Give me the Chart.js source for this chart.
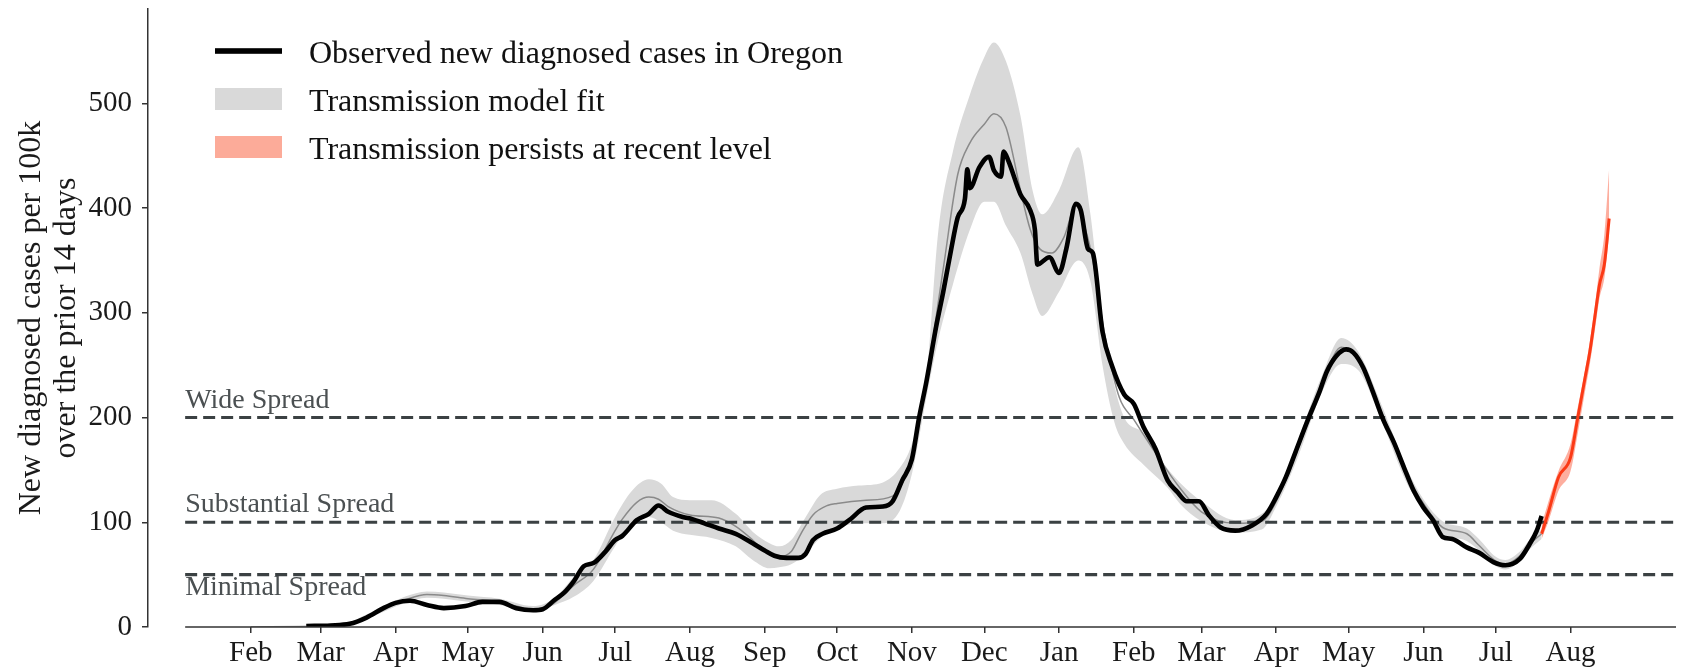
<!DOCTYPE html>
<html>
<head>
<meta charset="utf-8">
<script src="https://cdn.jsdelivr.net/npm/chart.js@4/dist/chart.umd.min.js"></script>
<style>
  body { margin: 0; background: #fff; }
  #wrap { width: 1687px; height: 671px; }
</style>
</head>
<body>
<div id="wrap"><canvas id="myChart" width="1687" height="671"></canvas></div>
<script>
// observed 14-day case rate per 100k
var obsDates = ['2020-02-24', '2020-03-05', '2020-03-13', '2020-03-20', '2020-03-27', '2020-04-01', '2020-04-07', '2020-04-14',
  '2020-04-21', '2020-04-30', '2020-05-07', '2020-05-14', '2020-05-21', '2020-05-28', '2020-06-01', '2020-06-06',
  '2020-06-10', '2020-06-14', '2020-06-18', '2020-06-22', '2020-06-27', '2020-07-01', '2020-07-04', '2020-07-10',
  '2020-07-15', '2020-07-19', '2020-07-23', '2020-07-29', '2020-08-02', '2020-08-07', '2020-08-13', '2020-08-20',
  '2020-08-27', '2020-09-01', '2020-09-05', '2020-09-10', '2020-09-15', '2020-09-18', '2020-09-21', '2020-09-25',
  '2020-10-01', '2020-10-06', '2020-10-13', '2020-10-20', '2020-10-24', '2020-10-28', '2020-11-01', '2020-11-04',
  '2020-11-07', '2020-11-11', '2020-11-14', '2020-11-17', '2020-11-20', '2020-11-23', '2020-11-24', '2020-11-25',
  '2020-11-29', '2020-12-03', '2020-12-05', '2020-12-08', '2020-12-09', '2020-12-11', '2020-12-16', '2020-12-20',
  '2020-12-22', '2020-12-23', '2020-12-28', '2021-01-01', '2021-01-04', '2021-01-08', '2021-01-10', '2021-01-13',
  '2021-01-15', '2021-01-19', '2021-01-23', '2021-01-28', '2021-02-01', '2021-02-05', '2021-02-10', '2021-02-15',
  '2021-02-19', '2021-02-23', '2021-02-28', '2021-03-04', '2021-03-09', '2021-03-15', '2021-03-22', '2021-03-28',
  '2021-04-01', '2021-04-05', '2021-04-09', '2021-04-14', '2021-04-19', '2021-04-22', '2021-04-26', '2021-04-30',
  '2021-05-03', '2021-05-07', '2021-05-11', '2021-05-15', '2021-05-20', '2021-05-24', '2021-05-28', '2021-06-01',
  '2021-06-05', '2021-06-09', '2021-06-13', '2021-06-19', '2021-06-24', '2021-06-30', '2021-07-05', '2021-07-11',
  '2021-07-15', '2021-07-18', '2021-07-20'];
var obsValues = [1, 1.5, 3, 9, 18, 23, 25, 21,
  18, 20, 24, 24, 18, 16, 17, 26,
  33, 44, 58, 61, 72, 83, 87, 102,
  108, 116, 110, 105, 103, 99, 94, 89,
  80, 73, 68, 66, 66, 70, 83, 89,
  94, 102, 114, 115, 120, 140, 160, 200,
  234, 286, 320, 357, 391, 409, 437, 419,
  439, 449, 436, 430, 454, 445, 413, 398,
  379, 346, 353, 338, 361, 404, 398, 361,
  357, 282, 249, 222, 213, 191, 170, 140,
  129, 120, 120, 107, 95, 92, 97, 108,
  124, 143, 167, 197, 225, 244, 259, 265,
  262, 248, 225, 200, 175, 152, 130, 114,
  102, 86, 84, 76, 71, 62, 59, 65,
  79, 92, 106];

// transmission model fit (central line)
var fitDates = ['2020-02-01', '2020-02-24', '2020-03-10', '2020-03-20', '2020-03-27', '2020-04-05', '2020-04-14', '2020-04-21',
  '2020-05-01', '2020-05-14', '2020-05-21', '2020-05-28', '2020-06-03', '2020-06-14', '2020-06-22', '2020-07-01',
  '2020-07-04', '2020-07-10', '2020-07-15', '2020-07-19', '2020-07-23', '2020-08-01', '2020-08-13', '2020-08-20',
  '2020-08-27', '2020-09-01', '2020-09-07', '2020-09-12', '2020-09-16', '2020-09-21', '2020-09-27', '2020-10-01',
  '2020-10-13', '2020-10-24', '2020-11-01', '2020-11-07', '2020-11-14', '2020-11-20', '2020-11-25', '2020-12-01',
  '2020-12-05', '2020-12-10', '2020-12-16', '2020-12-20', '2020-12-24', '2020-12-29', '2021-01-03', '2021-01-08',
  '2021-01-12', '2021-01-15', '2021-01-20', '2021-01-26', '2021-02-01', '2021-02-10', '2021-02-20', '2021-03-01',
  '2021-03-15', '2021-03-26', '2021-04-01', '2021-04-10', '2021-04-20', '2021-04-28', '2021-05-05', '2021-05-15',
  '2021-05-25', '2021-06-01', '2021-06-09', '2021-06-19', '2021-06-24', '2021-07-01', '2021-07-05', '2021-07-11',
  '2021-07-15', '2021-07-20'];
var fitValues = [0, 0.5, 2, 10, 18, 26, 31, 30,
  27, 24, 20, 17, 19, 40, 55, 92,
  103, 119, 124, 122, 115, 107, 104, 96,
  83, 72, 67, 72, 89, 107, 116, 118,
  121, 125, 164, 235, 342, 432, 462, 480,
  490, 477, 417, 380, 361, 357, 372, 402,
  379, 350, 278, 219, 198, 166, 133, 110,
  99, 101, 120, 170, 232, 267, 255, 203,
  145, 118, 95, 89, 78, 63, 60, 68,
  79, 89];

// model uncertainty band
var bandDates = ['2020-02-01', '2020-03-10', '2020-03-20', '2020-04-05', '2020-04-14', '2020-04-21', '2020-05-01', '2020-05-14',
  '2020-05-28', '2020-06-06', '2020-06-14', '2020-06-22', '2020-07-01', '2020-07-08', '2020-07-15', '2020-07-20',
  '2020-07-25', '2020-08-01', '2020-08-10', '2020-08-20', '2020-08-27', '2020-09-03', '2020-09-07', '2020-09-12',
  '2020-09-18', '2020-09-24', '2020-10-01', '2020-10-10', '2020-10-20', '2020-10-27', '2020-11-01', '2020-11-07',
  '2020-11-12', '2020-11-18', '2020-11-25', '2020-12-01', '2020-12-05', '2020-12-10', '2020-12-16', '2020-12-21',
  '2020-12-25', '2021-01-01', '2021-01-09', '2021-01-14', '2021-01-19', '2021-01-24', '2021-01-28', '2021-02-05',
  '2021-02-15', '2021-02-20', '2021-03-01', '2021-03-15', '2021-03-26', '2021-04-01', '2021-04-10', '2021-04-20',
  '2021-04-28', '2021-05-05', '2021-05-15', '2021-05-25', '2021-06-01', '2021-06-09', '2021-06-19', '2021-06-24',
  '2021-07-01', '2021-07-05', '2021-07-11', '2021-07-15', '2021-07-20'];
var bandUpper = [0.5, 3, 12, 29, 34, 33, 30, 27,
  20, 28, 48, 64, 105, 130, 141, 137,
  124, 121, 121, 108, 91, 80, 77, 83,
  105, 126, 132, 135, 138, 152, 175, 237,
  379, 454, 508, 544, 558, 540, 488, 417,
  394, 417, 458, 394, 293, 230, 200, 185,
  151, 138, 120, 102, 108, 125, 178, 240,
  276, 263, 210, 152, 122, 101, 94, 84,
  67, 64, 72, 83, 93];
var bandLower = [0, 1, 8, 23, 28, 27, 24, 21,
  14, 21, 29, 44, 77, 100, 105, 100,
  92, 88, 85, 77, 64, 56, 57, 60,
  70, 85, 94, 99, 99, 111, 146, 219,
  275, 327, 379, 406, 406, 383, 357, 318,
  297, 320, 350, 330, 250, 195, 175, 155,
  133, 118, 101, 90, 93, 115, 162, 224,
  251, 245, 195, 138, 112, 89, 82, 73,
  58, 55, 63, 74, 84];

// projection: transmission persists at recent level
var projDates = ['2021-07-20', '2021-07-23', '2021-07-27', '2021-08-01', '2021-08-04', '2021-08-07', '2021-08-09', '2021-08-11',
  '2021-08-13', '2021-08-15', '2021-08-17'];
var projValues = [89, 111, 143, 162, 200, 238, 263, 295, 327, 346, 390];
var projUpper = [98, 121, 149, 175, 210, 245, 273, 305, 343, 375, 438];
var projLower = [84, 102, 130, 149, 185, 225, 251, 282, 314, 333, 375];

// reference thresholds
var refLevels = [200, 100, 50];
var refLabels = ['Wide Spread', 'Substantial Spread', 'Minimal Spread'];

// axes
var monthTicks = ['2020-02-01', '2020-03-01', '2020-04-01', '2020-05-01', '2020-06-01', '2020-07-01', '2020-08-01', '2020-09-01',
  '2020-10-01', '2020-11-01', '2020-12-01', '2021-01-01', '2021-02-01', '2021-03-01', '2021-04-01', '2021-05-01',
  '2021-06-01', '2021-07-01', '2021-08-01'];
var monthLabels = ['Feb', 'Mar', 'Apr', 'May', 'Jun', 'Jul', 'Aug', 'Sep', 'Oct', 'Nov', 'Dec', 'Jan', 'Feb', 'Mar', 'Apr', 'May',
  'Jun', 'Jul', 'Aug'];
var yTicks = [0, 100, 200, 300, 400, 500];

var legendLabels = ['Observed new diagnosed cases in Oregon', 'Transmission model fit', 'Transmission persists at recent level'];

function dayOf(s) {
  return (Date.UTC(+s.slice(0, 4), +s.slice(5, 7) - 1, +s.slice(8, 10)) - Date.UTC(2020, 0, 1)) / 86400000;
}
function pts(dates, vals) {
  return dates.map(function (d, i) { return { x: dayOf(d), y: vals[i] }; });
}

var xMin = -11.6, xMax = 621.7, axisStart = 3.8;
var FONT = "'Liberation Serif', 'Times New Roman', serif";

var refSets = refLevels.map(function (lv) {
  return {
    data: [{ x: axisStart, y: lv }, { x: xMax, y: lv }],
    borderColor: '#3b4143', borderWidth: 3.2, borderDash: [12, 6],
    pointRadius: 0, fill: false, tension: 0
  };
});

var datasets = [
  { data: pts(obsDates, obsValues), borderColor: '#000', borderWidth: 4.6, pointRadius: 0, fill: false,
    cubicInterpolationMode: 'monotone' },
  { data: pts(projDates, projValues), borderColor: '#fb3a16', borderWidth: 3, pointRadius: 0, fill: false,
    cubicInterpolationMode: 'monotone' }
].concat(refSets).concat([
  { data: pts(fitDates, fitValues), borderColor: '#8a8a8a', borderWidth: 1.5, pointRadius: 0, fill: false,
    cubicInterpolationMode: 'monotone' },
  { data: pts(bandDates, bandUpper), borderWidth: 0, borderColor: 'rgba(0,0,0,0)', pointRadius: 0,
    backgroundColor: '#d9d9d9', fill: '+1', cubicInterpolationMode: 'monotone' },
  { data: pts(bandDates, bandLower), borderWidth: 0, borderColor: 'rgba(0,0,0,0)', pointRadius: 0, fill: false,
    cubicInterpolationMode: 'monotone' },
  { data: pts(projDates, projUpper), borderWidth: 0, borderColor: 'rgba(0,0,0,0)', pointRadius: 0,
    backgroundColor: 'rgba(251,120,95,0.6)', fill: '+1', cubicInterpolationMode: 'monotone' },
  { data: pts(projDates, projLower), borderWidth: 0, borderColor: 'rgba(0,0,0,0)', pointRadius: 0, fill: false,
    cubicInterpolationMode: 'monotone' }
]);

// x baseline (offset from the y spine), threshold labels and legend
var decorPlugin = {
  id: 'decor',
  afterDraw: function (chart) {
    var ctx = chart.ctx, xs = chart.scales.x, ys = chart.scales.y, area = chart.chartArea;
    ctx.save();
    ctx.strokeStyle = '#333';
    ctx.lineWidth = 1.5;
    ctx.beginPath();
    ctx.moveTo(xs.getPixelForValue(axisStart), ys.getPixelForValue(0));
    ctx.lineTo(area.right, ys.getPixelForValue(0));
    ctx.stroke();

    ctx.font = '28px ' + FONT;
    ctx.fillStyle = '#4b5052';
    ctx.textBaseline = 'alphabetic';
    ctx.textAlign = 'left';
    var lx = xs.getPixelForValue(axisStart);
    refLevels.forEach(function (lv, i) {
      var y = ys.getPixelForValue(lv);
      ctx.fillText(refLabels[i], lx, i === 2 ? y + 20 : y - 10);
    });

    // legend
    var rows = [51, 99, 147];
    ctx.font = '32px ' + FONT;
    ctx.fillStyle = '#111';
    legendLabels.forEach(function (t, i) {
      ctx.fillText(t, 309, rows[i] + 12);
    });
    ctx.fillStyle = '#000';
    ctx.fillRect(215, rows[0] - 2.8, 67, 5.6);
    ctx.fillStyle = '#d9d9d9';
    ctx.fillRect(215, rows[1] - 11, 67, 22);
    ctx.fillStyle = '#fcab99';
    ctx.fillRect(215, rows[2] - 11, 67, 22);
    ctx.restore();
  }
};

var myChart = new Chart(document.getElementById('myChart').getContext('2d'), {
  type: 'line',
  data: { datasets: datasets },
  plugins: [decorPlugin],
  options: {
    responsive: false,
    animation: false,
    layout: { padding: { top: 9, right: 11, left: 0, bottom: 0 } },
    plugins: { legend: { display: false }, tooltip: { enabled: false } },
    scales: {
      x: {
        type: 'linear', min: xMin, max: xMax,
        afterBuildTicks: function (scale) {
          scale.ticks = monthTicks.map(function (d) { return { value: dayOf(d) }; });
        },
        afterFit: function (scale) {
          scale.height = 44;
          scale.paddingLeft = 0; scale.paddingRight = 0;
        },
        grid: { display: true, drawOnChartArea: false, drawTicks: true, tickLength: 6, color: '#333', lineWidth: 1.5 },
        border: { display: false },
        ticks: {
          autoSkip: false, maxRotation: 0, padding: 3, color: '#1a1a1a',
          font: { family: FONT, size: 29 },
          callback: function (v, i) { return monthLabels[i]; }
        }
      },
      y: {
        min: 0, max: 590,
        afterBuildTicks: function (scale) {
          scale.ticks = yTicks.map(function (v) { return { value: v }; });
        },
        afterFit: function (scale) {
          scale.width = 148;
          scale.paddingTop = 0; scale.paddingBottom = 0;
        },
        grid: { display: true, drawOnChartArea: false, drawTicks: true, tickLength: 6, color: '#333', lineWidth: 1.5 },
        border: { display: true, color: '#333', width: 1.5 },
        ticks: { padding: 10, color: '#1a1a1a', font: { family: FONT, size: 29 } },
        title: {
          display: true,
          text: ['New diagnosed cases per 100k', 'over the prior 14 days'],
          color: '#1a1a1a',
          font: { family: FONT, size: 32, lineHeight: 1.1 },
          padding: { top: 14, bottom: 0 }
        }
      }
    }
  }
});
</script>
</body>
</html>
